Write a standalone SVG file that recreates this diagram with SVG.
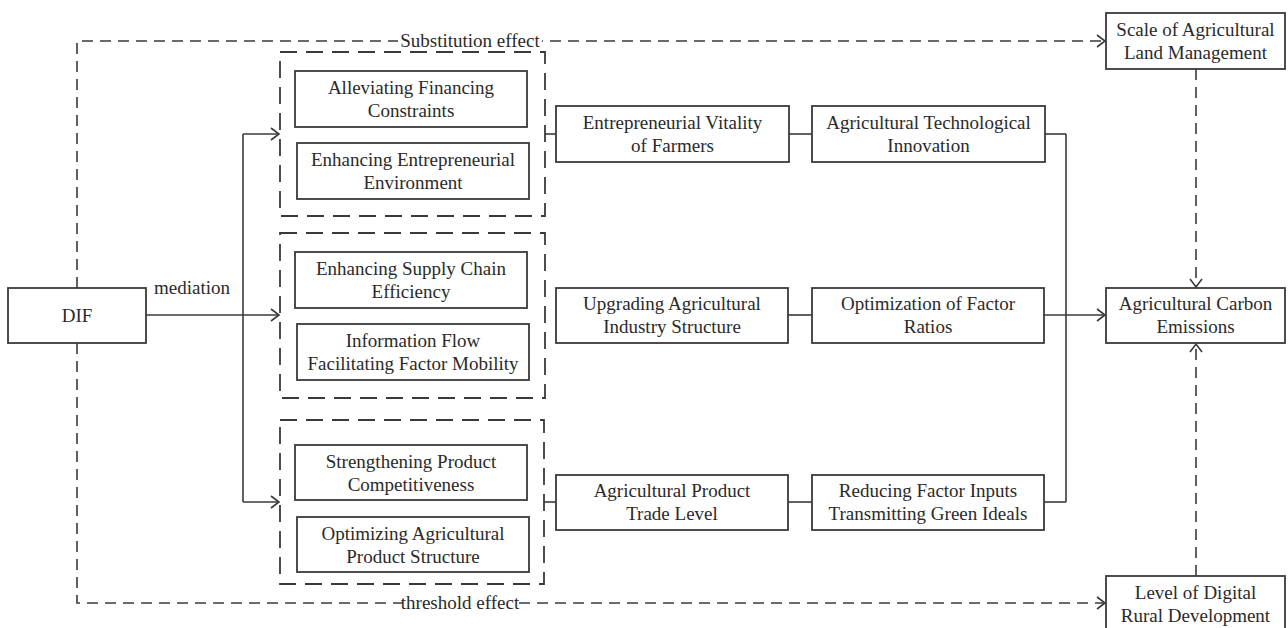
<svg xmlns="http://www.w3.org/2000/svg" width="1288" height="628" viewBox="0 0 1288 628">
  <style>
    .box { fill: #ffffff; stroke: #3a3a3a; stroke-width: 1.8; }
    .grp { fill: none; stroke: #3a3a3a; stroke-width: 1.8; stroke-dasharray: 17 9; }
    .lbl { font-family: "Liberation Serif", "Times New Roman", serif; font-size: 19px; fill: #2a2a2a; text-anchor: middle; }
    .ln { fill: none; stroke: #3a3a3a; stroke-width: 1.6; }
    .dash { fill: none; stroke: #3a3a3a; stroke-width: 1.6; stroke-dasharray: 11 7; }
  </style>
  <defs>
    <marker id="arrow" markerUnits="userSpaceOnUse" markerWidth="12" markerHeight="16" refX="9" refY="7" orient="auto">
      <path d="M1,1 L9,7 L1,13" fill="none" stroke="#3a3a3a" stroke-width="1.6"/>
    </marker>
  </defs>
  <rect width="1288" height="628" fill="#ffffff"/>

  <!-- connectors -->
  <g id="connectors">
    <!-- dashed effect paths -->
    <path class="dash" d="M77,288 V41 H1105" marker-end="url(#arrow)"/>
    <path class="dash" d="M77,343 V603 H1105" marker-end="url(#arrow)"/>
    <path class="dash" d="M1196,69 V287" marker-end="url(#arrow)"/>
    <path class="dash" d="M1196,576 V344" marker-end="url(#arrow)"/>
    <!-- mediation branches -->
    <path class="ln" d="M146,315 H279" marker-end="url(#arrow)"/>
    <path class="ln" d="M243,134 V502"/>
    <path class="ln" d="M243,134 H279" marker-end="url(#arrow)"/>
    <path class="ln" d="M243,502 H279" marker-end="url(#arrow)"/>
    <!-- chains -->
    <path class="ln" d="M545,134 H556"/>
    <path class="ln" d="M789,134 H812"/>
    <path class="ln" d="M1045,134 H1066"/>
    <path class="ln" d="M788,315 H812"/>
    <path class="ln" d="M1044,315 H1105" marker-end="url(#arrow)"/>
    <path class="ln" d="M544,502 H556"/>
    <path class="ln" d="M788,502 H812"/>
    <path class="ln" d="M1044,502 H1066"/>
    <path class="ln" d="M1066,134 V502"/>
    <!-- effect labels -->
    <rect x="398" y="30" width="144" height="20" fill="#ffffff"/>
    <text class="lbl" x="470" y="47">Substitution effect</text>
    <rect x="403" y="592" width="114" height="20" fill="#ffffff"/>
    <text class="lbl" x="460" y="609">threshold effect</text>
    <text class="lbl" x="192" y="294">mediation</text>
  </g>

  <!-- dashed groups -->
  <g id="group-financing">
    <rect class="grp" x="280" y="52" width="265" height="164"/>
  </g>
  <g id="group-supply">
    <rect class="grp" x="280" y="233" width="265" height="165"/>
  </g>
  <g id="group-product">
    <rect class="grp" x="280" y="420" width="264" height="164"/>
  </g>

  <g id="dif">
    <rect class="box" x="8" y="288" width="138" height="55"/>
    <text class="lbl" x="77" y="322">DIF</text>
  </g>

  <g id="alleviating-financing">
    <rect class="box" x="295" y="71" width="232" height="56"/>
    <text class="lbl" x="411" y="94">Alleviating Financing</text>
    <text class="lbl" x="411" y="117">Constraints</text>
  </g>
  <g id="entrepreneurial-environment">
    <rect class="box" x="297" y="143" width="232" height="56"/>
    <text class="lbl" x="413" y="166">Enhancing Entrepreneurial</text>
    <text class="lbl" x="413" y="189">Environment</text>
  </g>
  <g id="supply-chain">
    <rect class="box" x="295" y="252" width="232" height="56"/>
    <text class="lbl" x="411" y="275">Enhancing Supply Chain</text>
    <text class="lbl" x="411" y="298">Efficiency</text>
  </g>
  <g id="information-flow">
    <rect class="box" x="297" y="324" width="232" height="56"/>
    <text class="lbl" x="413" y="347">Information Flow</text>
    <text class="lbl" x="413" y="370">Facilitating Factor Mobility</text>
  </g>
  <g id="product-competitiveness">
    <rect class="box" x="295" y="445" width="232" height="55"/>
    <text class="lbl" x="411" y="468">Strengthening Product</text>
    <text class="lbl" x="411" y="491">Competitiveness</text>
  </g>
  <g id="product-structure">
    <rect class="box" x="297" y="517" width="232" height="55"/>
    <text class="lbl" x="413" y="540">Optimizing Agricultural</text>
    <text class="lbl" x="413" y="563">Product Structure</text>
  </g>

  <g id="entrepreneurial-vitality">
    <rect class="box" x="556" y="106" width="233" height="56"/>
    <text class="lbl" x="672.5" y="129">Entrepreneurial Vitality</text>
    <text class="lbl" x="672.5" y="152">of Farmers</text>
  </g>
  <g id="technological-innovation">
    <rect class="box" x="812" y="106" width="233" height="56"/>
    <text class="lbl" x="928.5" y="129">Agricultural Technological</text>
    <text class="lbl" x="928.5" y="152">Innovation</text>
  </g>
  <g id="industry-structure">
    <rect class="box" x="556" y="288" width="232" height="55"/>
    <text class="lbl" x="672" y="310">Upgrading Agricultural</text>
    <text class="lbl" x="672" y="333">Industry Structure</text>
  </g>
  <g id="factor-ratios">
    <rect class="box" x="812" y="288" width="232" height="55"/>
    <text class="lbl" x="928" y="310">Optimization of Factor</text>
    <text class="lbl" x="928" y="333">Ratios</text>
  </g>
  <g id="trade-level">
    <rect class="box" x="556" y="475" width="232" height="55"/>
    <text class="lbl" x="672" y="497">Agricultural Product</text>
    <text class="lbl" x="672" y="520">Trade Level</text>
  </g>
  <g id="factor-inputs">
    <rect class="box" x="812" y="475" width="232" height="55"/>
    <text class="lbl" x="928" y="497">Reducing Factor Inputs</text>
    <text class="lbl" x="928" y="520">Transmitting Green Ideals</text>
  </g>

  <g id="land-scale">
    <rect class="box" x="1106" y="13" width="179" height="56"/>
    <text class="lbl" x="1195.5" y="36">Scale of Agricultural</text>
    <text class="lbl" x="1195.5" y="59">Land Management</text>
  </g>
  <g id="carbon-emissions">
    <rect class="box" x="1106" y="288" width="179" height="55"/>
    <text class="lbl" x="1195.5" y="310">Agricultural Carbon</text>
    <text class="lbl" x="1195.5" y="333">Emissions</text>
  </g>
  <g id="digital-rural">
    <rect class="box" x="1106" y="576" width="179" height="56"/>
    <text class="lbl" x="1195.5" y="599">Level of Digital</text>
    <text class="lbl" x="1195.5" y="622">Rural Development</text>
  </g>
</svg>
